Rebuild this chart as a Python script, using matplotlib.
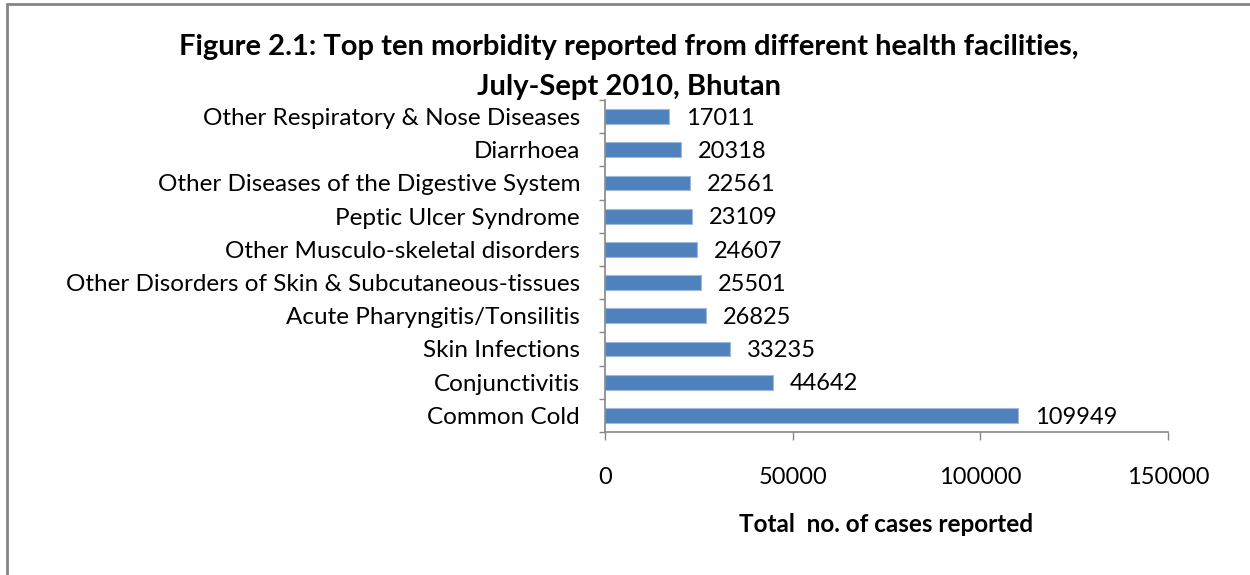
import matplotlib.pyplot as plt
from matplotlib.patches import Rectangle

diseases = [
    "Common Cold",
    "Conjunctivitis",
    "Skin Infections",
    "Acute Pharyngitis/Tonsilitis",
    "Other Disorders of Skin & Subcutaneous-tissues",
    "Other Musculo-skeletal disorders",
    "Peptic Ulcer Syndrome",
    "Other Diseases of the Digestive System",
    "Diarrhoea",
    "Other Respiratory & Nose Diseases",
]
cases = [109949, 44642, 33235, 26825, 25501, 24607, 23109, 22561, 20318, 17011]
xticks = [0, 50000, 100000, 150000]

plt.rcParams["font.family"] = ["Lato", "DejaVu Sans"]

fig = plt.figure(figsize=(12.5, 5.75), dpi=100)
ax = fig.add_axes([0.484, 0.2487, 0.4504, 0.5774])

y = range(len(diseases))
ax.barh(y, cases, height=0.45, color="#4F81BD", edgecolor="#9DB9DC", linewidth=0.8)
for yi, v in zip(y, cases):
    ax.text(v + 4500, yi - 0.05, str(v), va="center", ha="left", fontsize=17)

ax.set_xlim(0, 150000)
ax.set_ylim(-0.5, len(diseases) - 0.5)
ax.set_xticks(xticks)
ax.set_xticklabels([str(t) for t in xticks], fontsize=17)
ax.set_yticks(list(y))
ax.set_yticklabels(diseases, fontsize=17.5)
ax.set_yticks([i - 0.5 for i in range(len(diseases) + 1)], minor=True)
ax.tick_params(axis="y", which="major", length=0, pad=18)
ax.tick_params(axis="y", which="minor", length=4, color="#868686", width=1)
ax.tick_params(axis="x", length=6, color="#868686", width=1, direction="out", pad=19)
for s in ["top", "right"]:
    ax.spines[s].set_visible(False)
for s in ["left", "bottom"]:
    ax.spines[s].set_color("#868686")
    ax.spines[s].set_linewidth(1.2)

ax.set_xlabel("Total  no. of cases reported", fontsize=17.5, fontweight="bold")
ax.xaxis.set_label_coords(0.5, -0.245)

fig.text(0.503, 0.918, "Figure 2.1: Top ten morbidity reported from different health facilities,",
         ha="center", va="center", fontsize=21, fontweight="bold")
fig.text(0.503, 0.849, "July-Sept 2010, Bhutan",
         ha="center", va="center", fontsize=21, fontweight="bold")

fig.patches.append(Rectangle((6.5 / 1250, -0.05), 1.1, 1.05 - 4.5 / 575,
                             transform=fig.transFigure, fill=False,
                             edgecolor="#868686", linewidth=2))

fig.savefig("out.png", dpi=100)
